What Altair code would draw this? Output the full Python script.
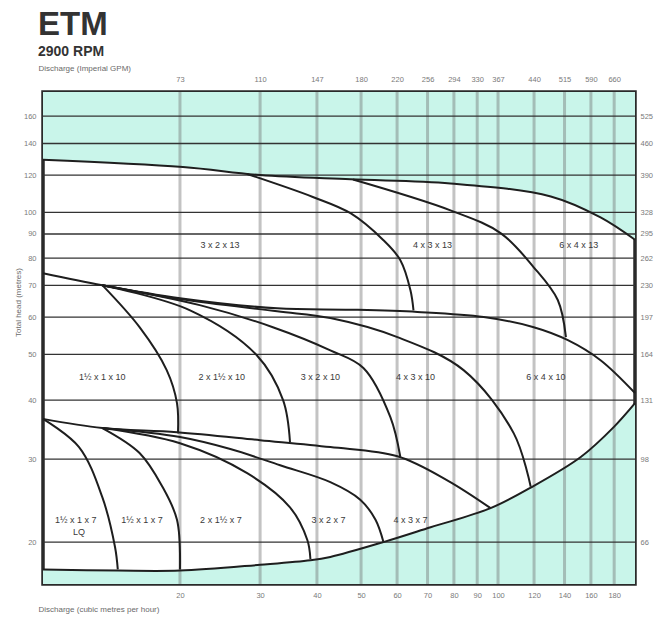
import altair as alt
import pandas as pd

# ---------------- axis ticks ----------------
x_ticks = [20, 30, 40, 50, 60, 70, 80, 90, 100, 120, 140, 160, 180]
gpm_labels = ["73", "110", "147", "180", "220", "256", "294", "330", "367", "440", "515", "590", "660"]
y_ticks = [20, 30, 40, 50, 60, 70, 80, 90, 100, 120, 140, 160]
feet_labels = ["66", "98", "131", "164", "197", "230", "262", "295", "328", "390", "460", "525"]

# ---------------- curves (discharge m3/h, head m) ----------------
top_q = [10, 20.3, 30, 47.4, 78.6, 130.6, 168, 200]
top_h = [129.3, 124.8, 120.0, 117.5, 115.2, 108.1, 97.6, 87.5]

c3x2x13_q = [28.1, 39.3, 47.4, 56.0, 61.0, 64.2, 65.2]
c3x2x13_h = [120.6, 107.7, 99.6, 87.3, 79.2, 68.4, 62.0]

c4x3x13_q = [48, 78.6, 101.3, 119.8, 135.3, 141]
c4x3x13_h = [117.4, 101, 90.4, 76.5, 65.2, 54.4]

c6x4x10_q = [10, 13.5, 20, 32.7, 47.4, 66.5, 93, 119.8, 142.4, 168, 200]
c6x4x10_h = [74.3, 70.1, 65.8, 62.6, 62.2, 61.5, 60.0, 57.1, 53.6, 48.6, 41.4]

c4x3x10_q = [13.5, 20, 32.7, 42.8, 60.1, 84, 108.3, 118]
c4x3x10_h = [70.1, 65.5, 61.7, 59.7, 54.4, 46.3, 34.0, 26.2]

c3x2x10_q = [13.5, 22.1, 32.0, 42.8, 50.6, 58.0, 61.0]
c3x2x10_h = [70.1, 63.6, 57.1, 51.0, 46.8, 36.8, 30.3]

c2x1h10_q = [13.5, 21.05, 29.5, 33.7, 34.9]
c2x1h10_h = [70.1, 62.0, 49.8, 40.0, 32.6]

c1hx1x10_q = [13.5, 16.3, 18.7, 19.7, 19.8]
c1hx1x10_h = [70.1, 57.1, 46.3, 39.4, 34.0]

c4x3x7_q = [10, 13.5, 19.7, 30, 42.8, 60.1, 77.5, 96.3]
c4x3x7_h = [36.5, 34.9, 34.2, 32.9, 31.8, 30.4, 27.0, 23.6]

c3x2x7_q = [13.5, 20, 25.8, 33.2, 42.8, 49.8, 53.8, 56]
c3x2x7_h = [34.9, 33.4, 31.5, 29.1, 26.8, 24.6, 22.3, 20.0]

c2x1hx7_q = [13.5, 20, 28.1, 34.9, 38.1, 38.7]
c2x1hx7_h = [34.9, 32.4, 28.0, 23.7, 20.2, 18.4]

c1hx1x7_q = [13.5, 16.3, 18.3, 19.7, 20]
c1hx1x7_h = [34.9, 30.9, 26.2, 22.3, 17.5]

c1hx1x7lq_q = [10, 12.0, 13.5, 14.4, 14.6]
c1hx1x7lq_h = [36.5, 31.8, 24.9, 19.5, 17.5]

bottom_q = [10, 14.6, 20, 30, 38.7, 42.8, 56, 71.1, 96.3, 118, 152, 179.8, 200]
bottom_h = [17.5, 17.4, 17.4, 17.9, 18.3, 18.6, 20.0, 21.5, 23.6, 26.1, 30.3, 35.1, 39.4]

# ---------------- region labels ----------------
label_text = ["3 x 2 x 13", "4 x 3 x 13", "6 x 4 x 13",
              "1½ x 1 x 10", "2 x 1½ x 10", "3 x 2 x 10", "4 x 3 x 10", "6 x 4 x 10",
              "1½ x 1 x 7", "LQ", "1½ x 1 x 7", "2 x 1½ x 7", "3 x 2 x 7", "4 x 3 x 7"]
label_q = [24.5, 71.8, 150.5, 13.5, 24.7, 40.7, 65.9, 127.4, 11.8, 12.0, 16.5, 24.6, 42.4, 64.2]
label_h = [85.2, 85.2, 85.2, 44.8, 44.8, 44.8, 44.8, 44.8, 22.3, 21.0, 22.3, 22.3, 22.3, 22.3]

# ---------------- build tables ----------------
curves = {
    "top": (top_q, top_h),
    "3x2x13": (c3x2x13_q, c3x2x13_h),
    "4x3x13": (c4x3x13_q, c4x3x13_h),
    "6x4x10": (c6x4x10_q, c6x4x10_h),
    "4x3x10": (c4x3x10_q, c4x3x10_h),
    "3x2x10": (c3x2x10_q, c3x2x10_h),
    "2x1h10": (c2x1h10_q, c2x1h10_h),
    "1hx1x10": (c1hx1x10_q, c1hx1x10_h),
    "4x3x7": (c4x3x7_q, c4x3x7_h),
    "3x2x7": (c3x2x7_q, c3x2x7_h),
    "2x1hx7": (c2x1hx7_q, c2x1hx7_h),
    "1hx1x7": (c1hx1x7_q, c1hx1x7_h),
    "1hx1x7lq": (c1hx1x7lq_q, c1hx1x7lq_h),
    "bottom": (bottom_q, bottom_h),
}
rows = []
for name, (qs, hs) in curves.items():
    for i, (q, h) in enumerate(zip(qs, hs)):
        rows.append({"name": name, "q": q, "h": h, "i": i})
lines_df = pd.DataFrame(rows)
top_df = pd.DataFrame({"q": top_q, "h": top_h})
bot_df = pd.DataFrame({"q": bottom_q, "h": bottom_h})
xgrid_df = pd.DataFrame({"q": x_ticks})
ygrid_df = pd.DataFrame({"h": y_ticks})
labels_df = pd.DataFrame({"t": label_text, "q": label_q, "h": label_h})

W, H = 592, 492
Y_MIN, Y_MAX = 16.3, 180
FONT = "Liberation Sans Narrow, Liberation Sans, sans-serif"
CYAN = "#c9f5ea"

xscale = alt.Scale(type="log", domain=[10, 200], nice=False)
yscale = alt.Scale(type="log", domain=[Y_MIN, Y_MAX], nice=False)


def ternary(vals, labs):
    return " : ".join(f"datum.value == {v} ? '{l}'" for v, l in zip(vals, labs)) + " : ''"


bottom_axis = alt.Axis(orient="bottom", values=x_ticks, format="d", labelPadding=7,
                       title="Discharge (cubic metres per hour)", titleX=-5, titleY=27,
                       titleAlign="left", titleBaseline="alphabetic", titleAngle=0)
left_axis = alt.Axis(orient="left", values=y_ticks, format="d", labelPadding=7,
                     title="Total head (metres)", titleX=-25, titleY=210, titleAngle=270,
                     titleAlign="center", titleBaseline="middle")
top_axis = alt.Axis(orient="top", values=x_ticks, labelExpr=ternary(x_ticks, gpm_labels),
                    labelPadding=9, title="Discharge (Imperial GPM)", titleX=-5, titleY=-22,
                    titleAlign="left", titleBaseline="alphabetic", titleAngle=0)
right_axis = alt.Axis(orient="right", values=y_ticks, labelExpr=ternary(y_ticks, feet_labels),
                      labelPadding=5, title=None)

top_area = alt.Chart(top_df).mark_area(color=CYAN, opacity=1, interpolate="catmull-rom").encode(
    x=alt.X("q:Q", scale=xscale, axis=bottom_axis),
    y=alt.Y("h:Q", scale=yscale, axis=left_axis, stack=None),
    y2=alt.datum(Y_MAX),
)
bot_area = alt.Chart(bot_df).mark_area(color=CYAN, opacity=1, interpolate="catmull-rom").encode(
    x=alt.X("q:Q", scale=xscale, axis=None),
    y=alt.Y("h:Q", scale=yscale, axis=None, stack=None),
    y2=alt.datum(Y_MIN),
)
vgrid = alt.Chart(xgrid_df).mark_rule(color="#6f6f6f", opacity=0.42, strokeWidth=3).encode(
    x=alt.X("q:Q", scale=xscale, axis=top_axis),
)
hgrid = alt.Chart(ygrid_df).mark_rule(color="#333333", strokeWidth=1.3).encode(
    y=alt.Y("h:Q", scale=yscale, axis=right_axis),
)
curve_lines = alt.Chart(lines_df).mark_line(color="#1e1e1e", strokeWidth=2,
                                            interpolate="catmull-rom").encode(
    x=alt.X("q:Q", scale=xscale, axis=None),
    y=alt.Y("h:Q", scale=yscale, axis=None),
    detail="name:N",
    order="i:Q",
)
region_labels = alt.Chart(labels_df).mark_text(font=FONT, fontSize=9, color="#3a3a3a").encode(
    x=alt.X("q:Q", scale=xscale, axis=None),
    y=alt.Y("h:Q", scale=yscale, axis=None),
    text="t:N",
)
title_etm = alt.Chart(pd.DataFrame({"t": ["ETM"]})).mark_text(
    font=FONT, fontSize=33, fontWeight="bold", color="#333333", align="left", baseline="alphabetic"
).encode(x=alt.value(-5), y=alt.value(-57), text="t:N")
title_rpm = alt.Chart(pd.DataFrame({"t": ["2900 RPM"]})).mark_text(
    font="Liberation Sans, sans-serif", fontSize=14, fontWeight="bold", color="#333333",
    align="left", baseline="alphabetic"
).encode(x=alt.value(-5), y=alt.value(-36), text="t:N")

chart = alt.layer(
    top_area, bot_area, vgrid, hgrid, curve_lines, region_labels, title_etm, title_rpm
).resolve_scale(x="shared", y="shared").resolve_axis(x="independent", y="independent").properties(
    width=W, height=H,
    autosize=alt.AutoSizeParams(type="none"),
    padding={"left": 43, "top": 92, "right": 664 - 43 - W, "bottom": 619 - 92 - H},
    background="white",
).configure_view(stroke="#2a2a2a", strokeWidth=3.5).configure_axis(
    labelFont=FONT, labelFontSize=7.5, labelColor="#7a7a7a",
    titleFont=FONT, titleFontSize=8, titleColor="#6a6a6a", titleFontWeight="normal",
    ticks=False, domain=False, grid=False,
)

chart.save("out.html", embed_options={"renderer": "svg", "actions": False})
